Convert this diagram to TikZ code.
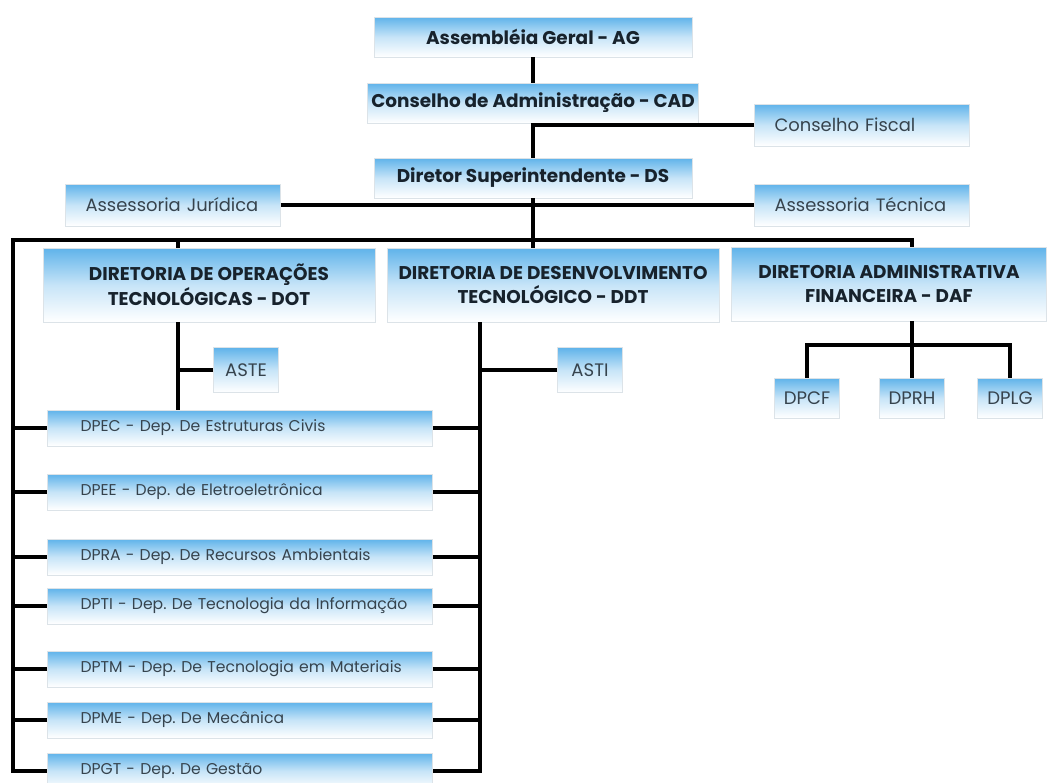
\documentclass[tikz,border=0pt]{standalone}
\usepackage{fontspec}
\setmainfont{Poppins}
\usetikzlibrary{positioning,calc}
\definecolor{sky}{HTML}{5FB3EA}
\definecolor{ink}{HTML}{36434D}
\definecolor{inkdk}{HTML}{17222C}
\definecolor{rim}{HTML}{DCE3E8}
\tikzset{
  box/.style={draw=rim, top color=sky, bottom color=white, middle color=sky!35!white,
              text=ink, inner sep=2pt, align=center},
  topbox/.style={box, text=inkdk, font=\bfseries\fontsize{10.5}{12}\selectfont,
                 minimum width=6.36cm, minimum height=0.8cm},
  sidebox/.style={box, font=\fontsize{10.2}{12}\selectfont, align=left,
                  text width=3.5cm, inner xsep=0.4cm, minimum height=0.84cm},
  dirbox/.style={box, text=inkdk, font=\bfseries\fontsize{10.5}{14}\selectfont,
                 minimum width=6.64cm, minimum height=1.48cm},
  smallbox/.style={box, font=\fontsize{10.3}{12}\selectfont,
                   minimum width=1.3cm, minimum height=0.9cm},
  deptbox/.style={box, font=\fontsize{8.9}{10}\selectfont, align=left,
                  text width=7.1cm, inner xsep=0.3cm, minimum height=0.72cm,
                  execute at begin node={\hspace*{0.36cm}}},
  link/.style={line width=2.2pt, black}
}

\begin{document}
\frenchspacing
\begin{tikzpicture}[x=0.02cm,y=-0.02cm]
  \clip (0,0) rectangle (1047,782);
  % conselhos e direcao
  \node[topbox] (ag) at (533,37) {Assembléia Geral - AG};
  \node[topbox] (cad) at (533,103) {Conselho de Administração - CAD};
  \node[topbox] (ds) at (533,178) {Diretor Superintendente - DS};
  \node[sidebox] (cf) at (862,125) {Conselho Fiscal};
  \node[sidebox] (aj) at (173,205) {Assessoria Jurídica};
  \node[sidebox] (at) at (862,205) {Assessoria Técnica};
  % diretorias
  \node[dirbox] (dot) at (209,285) {DIRETORIA DE OPERAÇÕES\\TECNOLÓGICAS - DOT};
  \node[dirbox] (ddt) at (553,285) {DIRETORIA DE DESENVOLVIMENTO\\TECNOLÓGICO - DDT};
  \node[dirbox, minimum width=6.3cm] (daf) at (889,284) {DIRETORIA ADMINISTRATIVA\\FINANCEIRA - DAF};
  \node[smallbox] (aste) at (246,370) {ASTE};
  \node[smallbox] (asti) at (590,370) {ASTI};
  \node[smallbox, minimum height=0.8cm] (dpcf) at (807,398) {DPCF};
  \node[smallbox, minimum height=0.8cm] (dprh) at (912,398) {DPRH};
  \node[smallbox, minimum height=0.8cm] (dplg) at (1010,398) {DPLG};
  % departamentos
  \node[deptbox] (dpec) at (240,428) {DPEC - Dep. De Estruturas Civis};
  \node[deptbox] (dpee) at (240,492) {DPEE - Dep. de Eletroeletrônica};
  \node[deptbox] (dpra) at (240,557) {DPRA - Dep. De Recursos Ambientais};
  \node[deptbox] (dpti) at (240,606) {DPTI - Dep. De Tecnologia da Informação};
  \node[deptbox] (dptm) at (240,669) {DPTM - Dep. De Tecnologia em Materiais};
  \node[deptbox] (dpme) at (240,720) {DPME - Dep. De Mecânica};
  \node[deptbox] (dpgt) at (240,771) {DPGT - Dep. De Gestão};
  \coordinate (bus) at (13,240);
  \coordinate (dotbus) at (178,0);
  \coordinate (ddtbus) at (480,0);
  % ligacoes
  \draw[link] (ag.south) -- (cad.north);
  \draw[link] (cad.south) -- (ds.north);
  \draw[link] (cf.west) -- (cf.west -| cad.south);
  \draw[link] (aj.east) -- (at.west);
  \draw[link] (ds.south) -- (ds.south |- ddt.north);
  \draw[link] (daf.north -| dprh) |- (bus) -- (bus |- dpgt) -- (dpgt.west);
  \draw[link] (bus -| dotbus) -- (dot.north -| dotbus);
  \draw[link] (dot.south -| dotbus) -- (dpec.north -| dotbus);
  \draw[link] (aste.west) -- (aste.west -| dotbus);
  \draw[link] (ddt.south -| ddtbus) -- (dpgt.east -| ddtbus) -- (dpgt.east);
  \draw[link] (asti.west) -- (asti.west -| ddtbus);
  \draw[link] (daf.south -| dprh) -- (dprh.north);
  \draw[link] (dpcf.north) -- ++(0,-33) -| (dplg.north);
  \draw[link] (bus |- dpec) -- (dpec.west) (dpec.east) -- (ddtbus |- dpec);
  \draw[link] (bus |- dpee) -- (dpee.west) (dpee.east) -- (ddtbus |- dpee);
  \draw[link] (bus |- dpra) -- (dpra.west) (dpra.east) -- (ddtbus |- dpra);
  \draw[link] (bus |- dpti) -- (dpti.west) (dpti.east) -- (ddtbus |- dpti);
  \draw[link] (bus |- dptm) -- (dptm.west) (dptm.east) -- (ddtbus |- dptm);
  \draw[link] (bus |- dpme) -- (dpme.west) (dpme.east) -- (ddtbus |- dpme);
\end{tikzpicture}
\end{document}
